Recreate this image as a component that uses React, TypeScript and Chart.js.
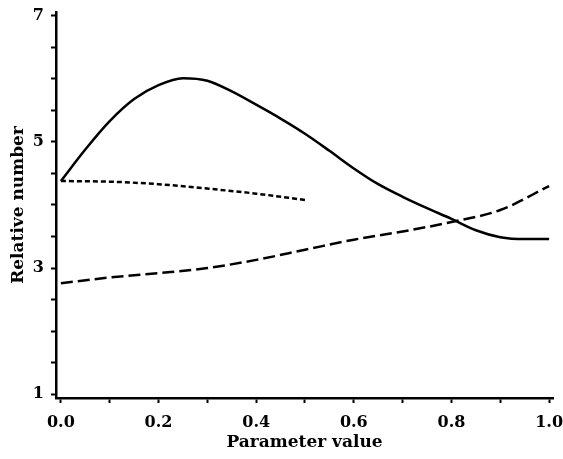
import React, { useEffect, useRef } from "react";
import { Chart, registerables } from "chart.js";

Chart.register(...registerables);

const solidX = [0, 0.05, 0.1, 0.15, 0.2, 0.25, 0.3, 0.35, 0.4, 0.45, 0.5, 0.55, 0.6, 0.65, 0.7, 0.75, 0.8, 0.85, 0.9, 0.95, 1.0];
const solidY = [4.38, 4.88, 5.33, 5.68, 5.9, 6.01, 5.97, 5.8, 5.59, 5.37, 5.13, 4.86, 4.58, 4.33, 4.13, 3.95, 3.78, 3.6, 3.49, 3.46, 3.46];

const dottedX = [0, 0.1, 0.2, 0.3, 0.4, 0.5];
const dottedY = [4.38, 4.37, 4.33, 4.26, 4.18, 4.08];

const dashedX = [0, 0.1, 0.2, 0.3, 0.4, 0.5, 0.6, 0.7, 0.8, 0.9, 1.0];
const dashedY = [2.76, 2.85, 2.92, 3.0, 3.13, 3.29, 3.45, 3.58, 3.73, 3.92, 4.3];

const xTicks = [0, 0.1, 0.2, 0.3, 0.4, 0.5, 0.6, 0.7, 0.8, 0.9, 1.0];
const xLabels = ["0.0", "", "0.2", "", "0.4", "", "0.6", "", "0.8", "", "1.0"];
const yTicks = [1, 1.5, 2, 2.5, 3, 3.5, 4, 4.5, 5, 5.5, 6, 6.5, 7];
const yLabels = ["1", "", "", "", "3", "", "", "", "5", "", "", "", "7"];

const toPoints = (xs: number[], ys: number[]) => xs.map((x, i) => ({ x, y: ys[i] }));

export default function App() {
  const ref = useRef<HTMLCanvasElement | null>(null);
  useEffect(() => {
    if (!ref.current) return;
    const fontFam = "'DejaVu Serif', serif";
    const chart = new Chart(ref.current, {
      type: "line",
      data: {
        datasets: [
          {
            data: toPoints(solidX, solidY),
            borderColor: "#000",
            borderWidth: 2.5,
            pointRadius: 0,
            cubicInterpolationMode: "monotone",
            fill: false,
          },
          {
            data: toPoints(dottedX, dottedY),
            borderColor: "#000",
            borderWidth: 2.5,
            borderDash: [5, 3],
            pointRadius: 0,
            cubicInterpolationMode: "monotone",
            fill: false,
          },
          {
            data: toPoints(dashedX, dashedY),
            borderColor: "#000",
            borderWidth: 2.5,
            borderDash: [12, 5],
            pointRadius: 0,
            cubicInterpolationMode: "monotone",
            fill: false,
          },
        ],
      },
      options: {
        responsive: false,
        animation: false,
        layout: { padding: { left: 0, top: 12, right: 10, bottom: 0 } },
        plugins: { legend: { display: false }, tooltip: { enabled: false } },
        scales: {
          x: {
            type: "linear",
            min: -0.01,
            max: 1.008,
            afterBuildTicks: (s: any) => {
              s.ticks = xTicks.map((v) => ({ value: v }));
            },
            afterFit: (s: any) => {
              s.height = 61;
              s.paddingLeft = 0;
              s.paddingRight = 0;
            },
            grid: {
              drawOnChartArea: false,
              drawTicks: true,
              tickLength: 5,
              tickWidth: 2,
              tickColor: "#000",
            },
            border: { display: true, color: "#000", width: 2.5 },
            ticks: {
              autoSkip: false,
              maxRotation: 0,
              padding: 10,
              color: "#000",
              font: { family: fontFam, size: 16, weight: "bold" },
              callback: (_v: any, i: number) => xLabels[i],
            },
            title: {
              display: true,
              text: "Parameter value",
              color: "#000",
              font: { family: fontFam, size: 17, weight: "bold" },
              padding: { top: 0, bottom: 6 },
            },
          },
          y: {
            type: "linear",
            min: 0.94,
            max: 7.06,
            afterBuildTicks: (s: any) => {
              s.ticks = yTicks.map((v) => ({ value: v }));
            },
            afterFit: (s: any) => {
              s.width = 56;
              s.paddingTop = 0;
              s.paddingBottom = 0;
            },
            grid: {
              drawOnChartArea: false,
              drawTicks: true,
              tickLength: 5,
              tickWidth: 2,
              tickColor: "#000",
            },
            border: { display: true, color: "#000", width: 2.5 },
            ticks: {
              autoSkip: false,
              padding: 7,
              color: "#000",
              font: { family: fontFam, size: 16, weight: "bold" },
              callback: (_v: any, i: number) => yLabels[i],
            },
            title: {
              display: true,
              text: "Relative number",
              color: "#000",
              font: { family: fontFam, size: 17, weight: "bold" },
              padding: { top: 8, bottom: 0 },
            },
          },
        },
      },
    } as any);
    return () => chart.destroy();
  }, []);
  return (
    <div style={{ position: "fixed", left: 0, top: 0, width: 563, height: 459, background: "#fff" }}>
      <canvas ref={ref} width={563} height={459} style={{ display: "block" }} />
    </div>
  );
}
